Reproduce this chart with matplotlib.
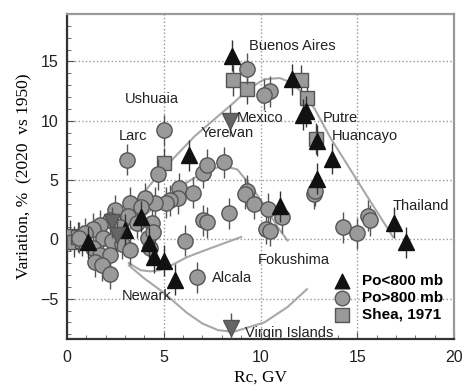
import matplotlib
matplotlib.use('Agg')
import matplotlib.pyplot as plt
from matplotlib.ticker import MultipleLocator

# ---------------- data ----------------
# Po<800 mb stations (black triangles)
tri_x = [1.1, 3.0, 3.85, 4.25, 4.5, 5.0, 5.6, 6.3, 8.55, 11.0, 11.65, 12.2, 12.35, 12.9, 12.9, 13.7, 16.9, 17.5]
tri_y = [-0.25, 0.8, 1.9, -0.3, -1.5, -1.8, -3.4, 7.1, 15.5, 2.8, 13.5, 10.5, 10.8, 8.3, 5.1, 6.8, 1.4, -0.25]

# highlighted stations (dark grey, pointing down)
inv_x = [2.3, 2.6, 8.4, 8.5]
inv_y = [1.45, 0.35, 10.0, -7.5]

# Po>800 mb stations (grey circles)
circ_x = [3.1, 5.0, 4.7, 7.05, 7.25, 8.1, 5.8, 6.5, 5.75, 5.3, 5.1, 4.55, 4.05, 3.25, 3.8, 2.5,
          3.15, 4.4, 3.6, 2.2, 1.7, 1.35, 0.95, 0.6, 1.85, 2.75, 2.35, 2.85, 4.2, 4.45, 4.3, 3.25,
          1.35, 1.7, 2.2, 1.45, 1.8, 2.2, 7.05, 7.25, 8.35, 6.1, 6.7, 9.3, 10.5, 10.2, 9.3, 9.2,
          9.65, 10.4, 11.1, 10.3, 10.5, 12.75, 12.8, 14.25, 15.0, 15.55, 15.65]
circ_y = [6.7, 9.2, 5.5, 5.6, 6.3, 6.5, 4.3, 3.95, 3.45, 3.3, 3.1, 3.1, 3.45, 3.1, 2.7, 2.45,
          2.0, 1.4, 1.4, 1.6, 1.2, 0.9, 0.5, 0.15, 0.15, 1.0, -0.1, -0.35, 0.15, 0.6, -0.7, -0.9,
          -0.7, -1.35, -1.35, -1.9, -2.2, -2.9, 1.6, 1.45, 2.2, -0.1, -3.2, 14.4, 12.5, 12.2, 4.1, 3.85,
          3.0, 2.6, 1.85, 0.9, 0.7, 3.85, 4.1, 1.0, 0.5, 2.0, 1.6]

# Shea, 1971 (grey squares)
sq_x = [0.15, 0.35, 0.55, 0.75, 5.0, 8.6, 9.3, 12.1, 12.4, 12.85]
sq_y = [0.3, -0.2, 0.2, -0.1, 6.4, 13.4, 12.7, 13.4, 11.9, 8.5]

# fitted curves
upper_x = [3.0, 3.6, 4.6, 5.6, 6.6, 7.6, 8.6, 9.4, 10.2, 11.0, 11.6, 12.2, 12.8, 13.6, 14.6, 15.6, 16.85]
upper_y = [1.5, 3.2, 5.2, 7.0, 8.7, 10.1, 11.5, 12.7, 13.5, 13.6, 13.2, 12.3, 11.0, 8.6, 6.0, 3.4, 0.2]
mid_x = [3.0, 4.0, 5.0, 6.0, 7.0, 8.0, 8.8, 9.6, 10.3, 10.9, 11.4]
mid_y = [0.5, 2.0, 3.4, 4.6, 5.6, 6.2, 5.9, 4.3, 2.6, 1.0, -0.1]
small_x = [3.2, 3.8, 4.3, 4.8, 5.5, 6.2, 7.0, 8.0, 9.0]
small_y = [-2.0, -2.6, -2.7, -2.6, -2.1, -1.5, -1.0, -0.4, 0.2]
low_x = [3.2, 4.0, 5.0, 6.2, 7.0, 7.8, 8.6, 9.0, 10.2, 11.4, 12.4]
low_y = [-2.2, -3.3, -4.5, -6.2, -7.1, -7.65, -7.8, -7.6, -7.0, -5.7, -4.2]

station_names = ['Buenos Aires', 'Ushuaia', 'Larc', 'Yerevan', 'Mexico', 'Putre', 'Huancayo',
                 'Thailand', 'Fokushima', 'Alcala', 'Newark', 'Virgin Islands']
name_x = [9.4, 3.0, 2.65, 6.9, 8.75, 13.2, 13.7, 16.85, 9.85, 7.5, 2.85, 9.2]
name_y = [16.3, 11.8, 8.75, 9.0, 10.25, 10.25, 8.75, 2.85, -1.75, -3.3, -4.8, -7.9]

err = 1.3
sans = 'Liberation Sans'

fig = plt.figure(figsize=(4.63, 3.90), dpi=100)
ax = fig.add_axes([0.1447, 0.1308, 0.8359, 0.8333])

for cx, cy in [(upper_x, upper_y), (mid_x, mid_y), (small_x, small_y), (low_x, low_y)]:
    ax.plot(cx, cy, color='#a8a8a8', lw=1.5, zorder=1)

ekw = dict(ls='none', elinewidth=1.0, capsize=0)
ax.errorbar(sq_x, sq_y, yerr=err, marker='s', ms=10, mfc='#9a9a9a', mec='#555555',
            ecolor='#444444', zorder=3, **ekw)
ax.errorbar(circ_x, circ_y, yerr=err, marker='o', ms=11, mfc='#9a9a9a', mec='#555555',
            ecolor='#555555', zorder=4, **ekw)
ax.errorbar(tri_x, tri_y, yerr=err, marker='^', ms=11, mfc='#111111', mec='#111111',
            ecolor='#333333', zorder=5, **ekw)
ax.errorbar(inv_x, inv_y, yerr=err, marker='v', ms=11, mfc='#666666', mec='#555555',
            ecolor='#555555', zorder=5, **ekw)

for name, tx, ty in zip(station_names, name_x, name_y):
    ax.text(tx, ty, name, fontsize=10.5, color='#222222', ha='left', va='center',
            family=sans, zorder=6)

# legend with proxy handles
h1 = ax.scatter([], [], marker='^', s=110, c='#111111')
h2 = ax.scatter([], [], marker='o', s=110, c='#9a9a9a', edgecolors='#555555')
h3 = ax.scatter([], [], marker='s', s=110, c='#9a9a9a', edgecolors='#555555')
leg = ax.legend([h1, h2, h3], ['Po<800 mb', 'Po>800 mb', 'Shea, 1971'], loc='lower right',
                bbox_to_anchor=(0.995, 0.025), frameon=False, handletextpad=0.3,
                labelspacing=0.2, borderaxespad=0.2,
                prop={'weight': 'bold', 'size': 11, 'family': sans})

ax.set_xlim(0, 20)
ax.set_ylim(-8.4, 19)
ax.xaxis.set_major_locator(MultipleLocator(5))
ax.xaxis.set_minor_locator(MultipleLocator(1))
ax.yaxis.set_major_locator(MultipleLocator(5))
ax.yaxis.set_minor_locator(MultipleLocator(1))
ax.tick_params(which='both', direction='in', colors='#555555', labelcolor='#222222', labelsize=11.5)
ax.tick_params(which='major', length=5)
ax.tick_params(which='minor', length=3)
ax.tick_params(axis='x', pad=8)
ax.tick_params(axis='y', pad=6)
for lbl in ax.get_xticklabels() + ax.get_yticklabels():
    lbl.set_family(sans)
ax.grid(True, which='major', ls=':', color='#999999', lw=1.0)

for s in ['left', 'bottom']:
    ax.spines[s].set_color('#333333')
    ax.spines[s].set_linewidth(1.6)
for s in ['top', 'right']:
    ax.spines[s].set_color('#999999')
    ax.spines[s].set_linewidth(1.6)

ax.set_xlabel('Rc, GV', family='Liberation Serif', fontsize=12.5, labelpad=3)
ax.set_ylabel('Variation, %  (2020  vs 1950)', family='Liberation Serif', fontsize=12.5, labelpad=6)

fig.savefig('out.png', dpi=100)
